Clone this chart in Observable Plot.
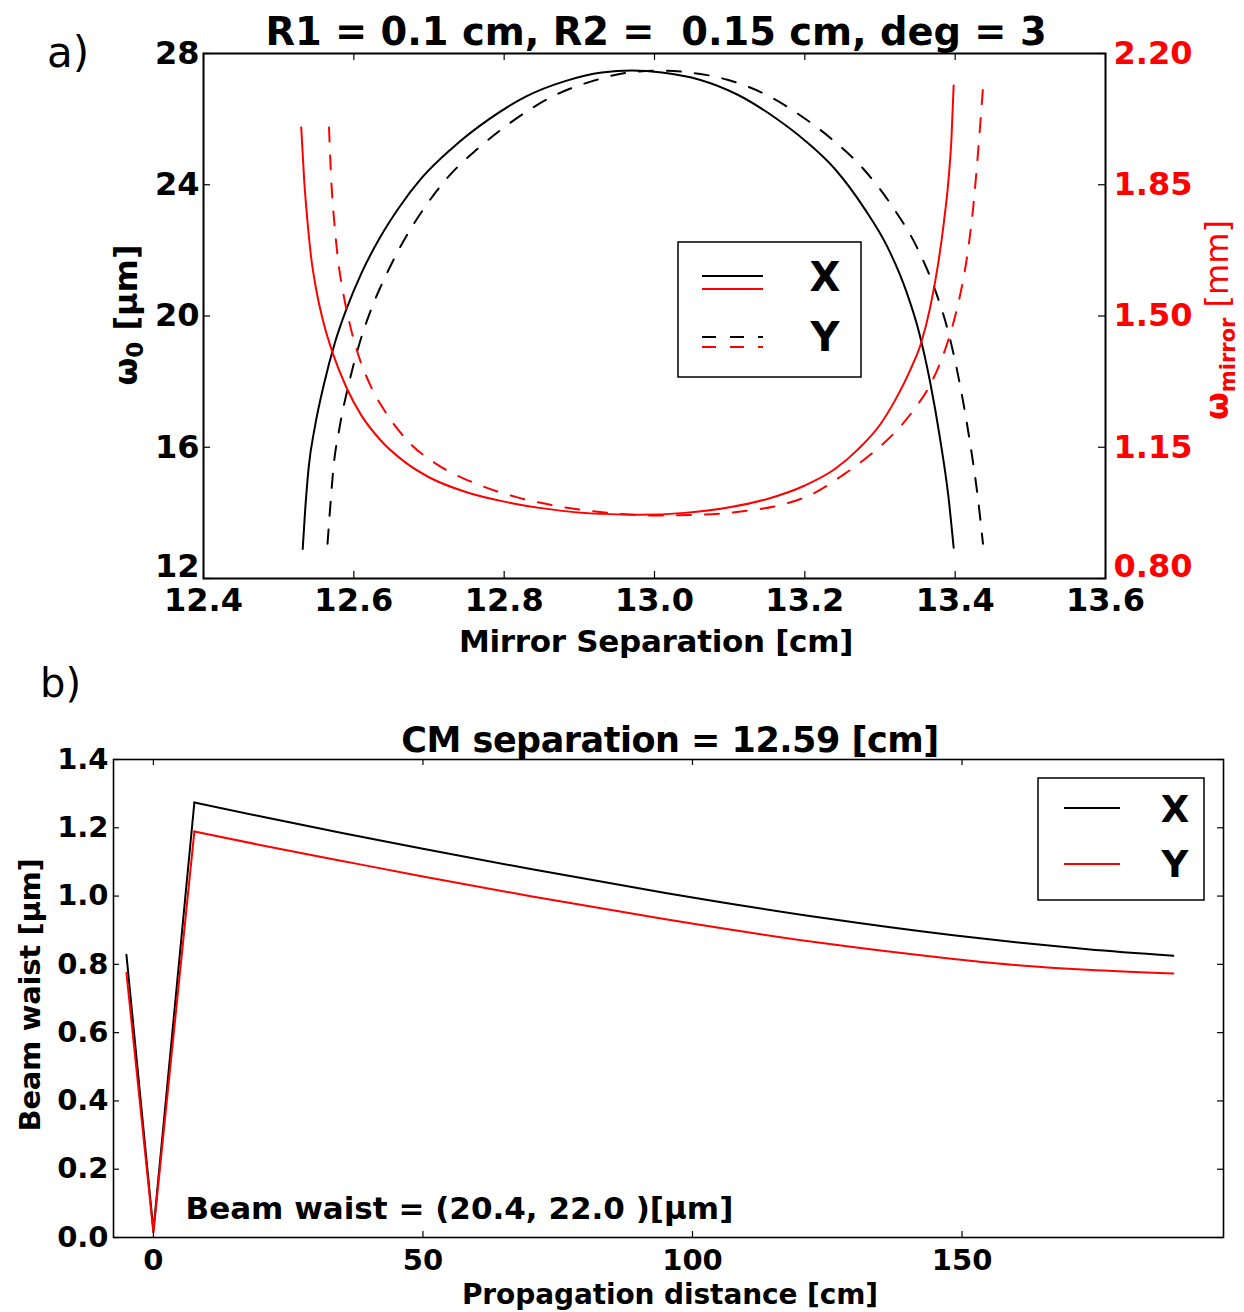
<!DOCTYPE html>
<html>
<head>
<meta charset="utf-8">
<script src="https://cdn.jsdelivr.net/npm/d3@7"></script>
<script src="https://cdn.jsdelivr.net/npm/@observablehq/plot@0.6"></script>
<style>
  body { margin: 0; background: #fff; }
  #wrap { position: relative; width: 1244px; height: 1312px; font-family: "DejaVu Sans"; background: #fff; }
  #wrap svg { position: absolute; left: 0; }
</style>
</head>
<body>
<div id="wrap"></div>
<script>
// ---------- Panel a) data ----------
const sepTicks = [12.4, 12.6, 12.8, 13.0, 13.2, 13.4, 13.6];
const w0Ticks = [12, 16, 20, 24, 28];
const mirrorTicks = [0.80, 1.15, 1.50, 1.85, 2.20];

// waist w0 [um], X (solid black)
const sepX_w0 = [12.532,12.535,12.540,12.548,12.560,12.575,12.590,12.610,12.635,12.660,12.690,12.73,12.78,12.83,12.88,12.93,12.97,13.01,13.06,13.11,13.16,13.20,13.24,13.28,13.31,13.335,13.352,13.367,13.38,13.391,13.398];
const w0X     = [12.9,14.0,15.4,16.6,17.9,19.2,20.2,21.3,22.4,23.3,24.2,25.1,26.0,26.7,27.15,27.42,27.48,27.42,27.2,26.75,26.05,25.35,24.48,23.25,22.1,20.75,19.5,17.95,16.25,14.5,12.94];
// waist w0 [um], Y (dashed black)
const sepY_w0 = [12.565,12.568,12.573,12.581,12.593,12.608,12.623,12.644,12.669,12.694,12.724,12.765,12.815,12.865,12.916,12.966,13.007,13.047,13.097,13.148,13.198,13.238,13.278,13.319,13.349,13.374,13.391,13.406,13.419,13.430,13.437];
const w0Y     = [13.06,14.0,15.4,16.6,17.9,19.2,20.2,21.3,22.4,23.3,24.2,25.1,26.0,26.7,27.15,27.42,27.48,27.42,27.2,26.75,26.05,25.35,24.48,23.25,22.1,20.75,19.5,17.95,16.25,14.5,13.06];
// mirror spot [mm], X (solid red)
const sepX_m = [12.530,12.534,12.538,12.543,12.550,12.560,12.573,12.59,12.61,12.635,12.665,12.70,12.75,12.80,12.86,12.92,12.98,13.04,13.10,13.15,13.20,13.24,13.27,13.30,13.32,13.34,13.355,13.367,13.377,13.385,13.391,13.395,13.398];
const mX     = [2.003,1.86,1.76,1.66,1.57,1.48,1.395,1.31,1.235,1.17,1.115,1.07,1.03,1.005,0.985,0.973,0.970,0.975,0.99,1.012,1.048,1.092,1.143,1.21,1.275,1.355,1.43,1.525,1.635,1.75,1.86,1.97,2.115];
// mirror spot [mm], Y (dashed red)
const sepY_m = [12.567,12.570,12.574,12.579,12.586,12.595,12.607,12.622,12.645,12.675,12.71,12.76,12.82,12.88,12.94,13.00,13.06,13.12,13.17,13.21,13.25,13.29,13.32,13.345,13.365,13.382,13.396,13.407,13.416,13.424,13.431,13.437];
const mY     = [2.003,1.86,1.75,1.65,1.56,1.475,1.39,1.315,1.235,1.16,1.105,1.055,1.015,0.99,0.975,0.968,0.970,0.98,0.997,1.025,1.075,1.135,1.19,1.25,1.31,1.385,1.47,1.56,1.66,1.79,1.95,2.109];

// ---------- Panel b) data ----------
const distTicks = [0, 50, 100, 150];
const waistTicks = [0, 0.2, 0.4, 0.6, 0.8, 1.0, 1.2, 1.4];
const distX = [-5, 0, 7.6, 20, 35, 49.5, 70, 95, 123.7, 148.4, 160.9, 173.3, 189.2];
const waistX = [0.828, 0.02, 1.274, 1.233, 1.185, 1.140, 1.079, 1.009, 0.937, 0.885, 0.863, 0.844, 0.825];
const distY = [-5, 0, 7.6, 20, 35, 49.5, 70, 95, 123.7, 148.4, 160.9, 173.3, 189.2];
const waistY = [0.775, 0.015, 1.189, 1.149, 1.103, 1.059, 0.9995, 0.932, 0.863, 0.816, 0.797, 0.784, 0.773];

const titleA = "R1 = 0.1 cm, R2 =  0.15 cm, deg = 3";
const titleB = "CM separation = 12.59 [cm]";
const noteB = "Beam waist = (20.4, 22.0 )[μm]";
const legendLabels = ["X", "Y"];

const RED = "#ff0000";
const FONT = "DejaVu Sans";
const tbl = (xs, ys) => xs.map((x, i) => ({x, y: ys[i]}));

const wrap = document.getElementById("wrap");

// top panel geometry
const TW = 1244, TH = 665, TL = 203, TR = 139, TT = 53, TB = 87;
const TFW = TW - TL - TR, TFH = TH - TT - TB;
const TICK = 7;
const topCommon = {
  width: TW, height: TH,
  marginLeft: TL, marginRight: TR, marginTop: TT, marginBottom: TB,
  style: {background: "transparent", fontFamily: FONT, overflow: "visible", top: "0px"}
};
const tickFont = {fontSize: 32, fontWeight: "bold", fontFamily: FONT};

// Layer 1: w0 (left axis)
const svgA = Plot.plot({
  ...topCommon,
  x: {domain: [12.4, 13.6]},
  y: {domain: [12, 28]},
  marks: [
    Plot.line(tbl(sepX_w0, w0X), {x: "x", y: "y", stroke: "black", strokeWidth: 2, curve: "monotone-x"}),
    Plot.line(tbl(sepY_w0, w0Y), {x: "x", y: "y", stroke: "black", strokeWidth: 2, strokeDasharray: "14,14", curve: "monotone-x"}),
    Plot.axisY({ticks: w0Ticks.slice(1), tickSize: 0, tickPadding: 4, tickFormat: d => String(d), label: null, ...tickFont}),
    Plot.axisY({ticks: w0Ticks.slice(0, 1), tickSize: 0, tickPadding: 4, dy: -12, tickFormat: d => String(d), label: null, ...tickFont}),
    Plot.axisX({ticks: sepTicks, tickSize: 0, tickPadding: 10, tickFormat: d => d.toFixed(1), label: null, ...tickFont}),
    // inward tick marks
    Plot.tickY(w0Ticks, {y: d => d, stroke: "black", strokeWidth: 1.2, insetRight: TFW - TICK}),
    Plot.tickX(sepTicks, {x: d => d, stroke: "black", strokeWidth: 1.2, insetTop: TFH - TICK}),
    Plot.tickX(sepTicks, {x: d => d, stroke: "black", strokeWidth: 1.2, insetBottom: TFH - TICK}),
    Plot.frame({stroke: "black", strokeWidth: 2})
  ]
});

// Layer 2: mirror spot (right axis)
const svgB = Plot.plot({
  ...topCommon,
  x: {domain: [12.4, 13.6], axis: null},
  y: {domain: [0.8, 2.2]},
  marks: [
    Plot.line(tbl(sepX_m, mX), {x: "x", y: "y", stroke: RED, strokeWidth: 2, curve: "monotone-x"}),
    Plot.line(tbl(sepY_m, mY), {x: "x", y: "y", stroke: RED, strokeWidth: 2, strokeDasharray: "14,14", curve: "monotone-x"}),
    Plot.axisY({anchor: "right", ticks: mirrorTicks.slice(1), tickSize: 0, tickPadding: 8, tickFormat: d => d.toFixed(2), fill: RED, label: null, ...tickFont}),
    Plot.axisY({anchor: "right", ticks: mirrorTicks.slice(0, 1), tickSize: 0, tickPadding: 8, dy: -12, tickFormat: d => d.toFixed(2), fill: RED, label: null, ...tickFont}),
    Plot.tickY(mirrorTicks, {y: d => d, stroke: "black", strokeWidth: 1.2, insetLeft: TFW - TICK})
  ]
});

// Panel b geometry
const BW = 1244, BH = 647, BL = 113, BR = 21, BT = 94, BB = 75;
const BFW = BW - BL - BR, BFH = BH - BT - BB;
const BTICK = 6;
const peakIdx = 2; // start of smooth decay segment
const segX = tbl(distX, waistX);
const segY = tbl(distY, waistY);

const svgC = Plot.plot({
  width: BW, height: BH,
  marginLeft: BL, marginRight: BR, marginTop: BT, marginBottom: BB,
  style: {background: "transparent", fontFamily: FONT, overflow: "visible", top: "665px"},
  x: {domain: [-7.4, 198.5]},
  y: {domain: [0, 1.4]},
  marks: [
    Plot.line(segX.slice(0, peakIdx + 1), {x: "x", y: "y", stroke: "black", strokeWidth: 2}),
    Plot.line(segX.slice(peakIdx), {x: "x", y: "y", stroke: "black", strokeWidth: 2, curve: "monotone-x"}),
    Plot.line(segY.slice(0, peakIdx + 1), {x: "x", y: "y", stroke: RED, strokeWidth: 2}),
    Plot.line(segY.slice(peakIdx), {x: "x", y: "y", stroke: RED, strokeWidth: 2, curve: "monotone-x"}),
    Plot.axisY({ticks: waistTicks, tickSize: 0, tickPadding: 5, tickFormat: d => d.toFixed(1), label: null, fontSize: 29, fontWeight: "bold", fontFamily: FONT}),
    Plot.axisX({ticks: distTicks, tickSize: 0, tickPadding: 12, tickFormat: d => String(d), label: null, fontSize: 29, fontWeight: "bold", fontFamily: FONT}),
    Plot.tickY(waistTicks, {y: d => d, stroke: "black", strokeWidth: 1.2, insetRight: BFW - BTICK}),
    Plot.tickY(waistTicks, {y: d => d, stroke: "black", strokeWidth: 1.2, insetLeft: BFW - BTICK}),
    Plot.tickX(distTicks, {x: d => d, stroke: "black", strokeWidth: 1.2, insetTop: BFH - BTICK}),
    Plot.tickX(distTicks, {x: d => d, stroke: "black", strokeWidth: 1.2, insetBottom: BFH - BTICK}),
    Plot.frame({stroke: "black", strokeWidth: 1.6}),
    Plot.text([noteB], {text: d => d, frameAnchor: "bottom-left", dx: 72, dy: -19, textAnchor: "start", lineAnchor: "bottom", fontSize: 31, fontWeight: "bold", fontFamily: FONT, fill: "black"})
  ]
});

wrap.append(svgA, svgB, svgC);

// ---------- Texts & legends ----------
function txt(svg, o) {
  const t = d3.select(svg).append("text")
    .attr("x", o.x).attr("y", o.y)
    .attr("text-anchor", o.anchor || "middle")
    .attr("font-family", FONT)
    .attr("font-size", o.size)
    .attr("font-weight", o.weight || "bold")
    .attr("fill", o.fill || "black")
    .text(o.text);
  if (o.rotate) t.attr("transform", `rotate(${o.rotate},${o.x},${o.y})`);
  if (o.ls) t.attr("letter-spacing", o.ls);
  return t;
}

// Panel a texts
txt(svgB, {x: 656, y: 45, text: titleA, size: 38.4});
txt(svgB, {x: 47, y: 67, text: "a)", size: 42, weight: "normal", anchor: "start"});
txt(svgB, {x: 656, y: 652, text: "Mirror Separation [cm]", size: 31, ls: -0.3});

// left y label: ω0 [μm]
{
  const t = d3.select(svgB).append("text")
    .attr("x", 137).attr("y", 315).attr("text-anchor", "middle")
    .attr("font-family", FONT).attr("font-size", 32).attr("font-weight", "bold")
    .attr("transform", "rotate(-90,137,315)");
  t.append("tspan").text("ω");
  t.append("tspan").attr("font-size", 23).attr("dy", 6).text("0");
  t.append("tspan").attr("dy", -6).text(" [μm]");
}
// right y label: ω_mirror [mm]
{
  const t = d3.select(svgB).append("text")
    .attr("x", 1228).attr("y", 320).attr("text-anchor", "middle")
    .attr("font-family", FONT).attr("font-size", 32).attr("fill", RED)
    .attr("transform", "rotate(-90,1228,320)");
  t.append("tspan").attr("font-weight", "bold").text("ω");
  t.append("tspan").attr("font-weight", "bold").attr("font-size", 21).attr("dy", 7).text("mirror");
  t.append("tspan").attr("font-weight", "normal").attr("dy", -7).text(" [mm]");
}

// Panel a legend
{
  const g = d3.select(svgB).append("g");
  g.append("rect").attr("x", 678).attr("y", 242).attr("width", 183).attr("height", 135)
    .attr("fill", "white").attr("stroke", "black").attr("stroke-width", 1.5);
  const rows = [
    {y1: 276, y2: 289, dash: null, label: legendLabels[0], by: 291},
    {y1: 337, y2: 347, dash: "14,14", label: legendLabels[1], by: 351}
  ];
  for (const r of rows) {
    g.append("line").attr("x1", 702).attr("x2", 763).attr("y1", r.y1).attr("y2", r.y1)
      .attr("stroke", "black").attr("stroke-width", 2).attr("stroke-dasharray", r.dash);
    g.append("line").attr("x1", 702).attr("x2", 763).attr("y1", r.y2).attr("y2", r.y2)
      .attr("stroke", RED).attr("stroke-width", 2).attr("stroke-dasharray", r.dash);
    txt(svgB, {x: 825, y: r.by, text: r.label, size: 40});
  }
}

// Panel b texts (svgC coordinates: top = 665)
txt(svgC, {x: 670, y: 87, text: titleB, size: 35, ls: -0.5});
txt(svgC, {x: 40, y: 32, text: "b)", size: 40, weight: "normal", anchor: "start"});
txt(svgC, {x: 670, y: 639, text: "Propagation distance [cm]", size: 28, ls: -0.1});
txt(svgC, {x: 40, y: 330, text: "Beam waist [μm]", size: 29, rotate: -90, ls: -0.3});

// Panel b legend
{
  const g = d3.select(svgC).append("g");
  g.append("rect").attr("x", 1038).attr("y", 113).attr("width", 166).attr("height", 122)
    .attr("fill", "white").attr("stroke", "black").attr("stroke-width", 1.5);
  g.append("line").attr("x1", 1064).attr("x2", 1120).attr("y1", 143).attr("y2", 143)
    .attr("stroke", "black").attr("stroke-width", 2);
  g.append("line").attr("x1", 1064).attr("x2", 1120).attr("y1", 199).attr("y2", 199)
    .attr("stroke", RED).attr("stroke-width", 2);
  txt(svgC, {x: 1175, y: 157, text: legendLabels[0], size: 37});
  txt(svgC, {x: 1175, y: 212, text: legendLabels[1], size: 37});
}
</script>
</body>
</html>
